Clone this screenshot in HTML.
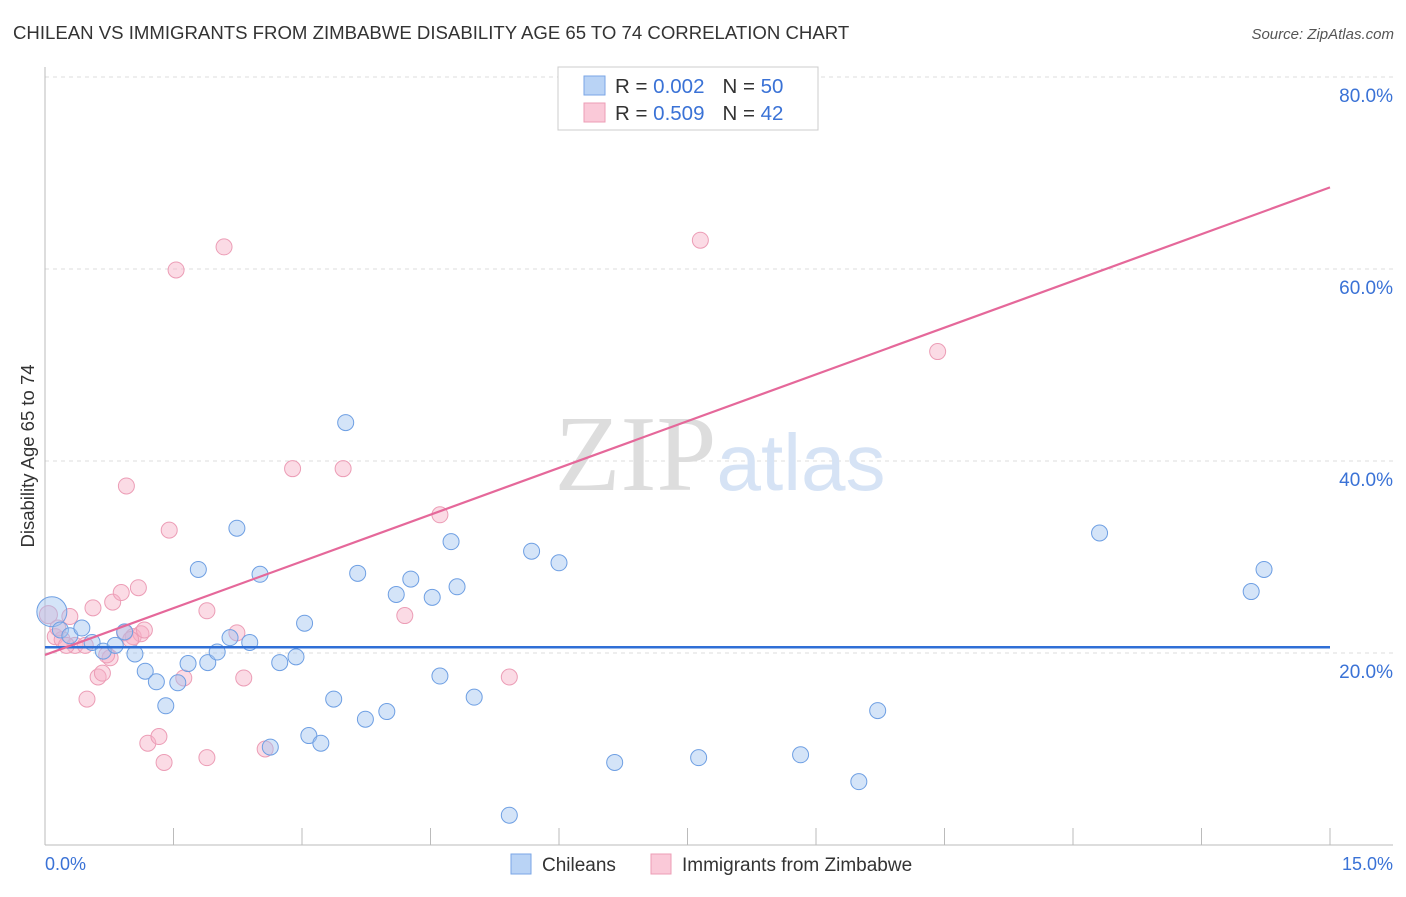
<!DOCTYPE html>
<html><head><meta charset="utf-8"><style>
body{margin:0;background:#fff;font-family:"Liberation Sans",sans-serif;}
svg text{font-family:"Liberation Sans",sans-serif;}
</style></head><body>
<svg id="chart" width="1406" height="892">
<text x="13" y="39" font-size="18.6" fill="#333">CHILEAN VS IMMIGRANTS FROM ZIMBABWE DISABILITY AGE 65 TO 74 CORRELATION CHART</text>
<text x="1394" y="39" font-size="15" fill="#555" font-style="italic" text-anchor="end">Source: ZipAtlas.com</text>
<g id="grid"></g>
<text x="720" y="490" font-size="108" fill="#e6e6e6" text-anchor="middle" font-family="Liberation Serif"><tspan fill="#dddddd" font-family="Liberation Serif">ZIP</tspan><tspan fill="#d6e3f5" font-family="Liberation Sans" font-size="80">atlas</tspan></text>
<text transform="translate(34,456) rotate(-90)" font-size="18.5" fill="#333" text-anchor="middle">Disability Age 65 to 74</text>
<g id="pts"></g>
<g id="trend"></g>
<g>
<rect x="558" y="67" width="260" height="63" fill="#fff" stroke="#ccc"/>
<rect x="584" y="76" width="21" height="19" fill="#b9d3f5" stroke="#7aa6e6"/>
<rect x="584" y="103" width="21" height="19" fill="#fac9d8" stroke="#ec9db6"/>
<text x="615" y="93" font-size="20.5" fill="#333">R = <tspan fill="#3a72d6">0.002</tspan><tspan dx="18">N = </tspan><tspan fill="#3a72d6">50</tspan></text>
<text x="615" y="120" font-size="20.5" fill="#333">R = <tspan fill="#3a72d6">0.509</tspan><tspan dx="18">N = </tspan><tspan fill="#3a72d6"> 42</tspan></text>
</g>
<g>
<rect x="511" y="854" width="20" height="20" fill="#b9d3f5" stroke="#7aa6e6"/>
<text x="542" y="871" font-size="19" fill="#333">Chileans</text>
<rect x="651" y="854" width="20" height="20" fill="#fac9d8" stroke="#ec9db6"/>
<text x="682" y="871" font-size="19" fill="#333">Immigrants from Zimbabwe</text>
</g>
<text x="45" y="870" font-size="18" fill="#3a72d6">0.0%</text>
<text x="1393" y="870" font-size="18" fill="#3a72d6" text-anchor="end">15.0%</text>
</svg>
<script>
const yTicks=[20,40,60,80];
const yTickLabels=["20.0%","40.0%","60.0%","80.0%"];
const xTicks=[0,1.5,3,4.5,6,7.5,9,10.5,12,13.5,15];
const blueX=[0.08,0.18,0.29,0.43,0.55,0.68,0.82,0.93,1.05,1.17,1.30,1.41,1.55,1.67,1.79,1.90,2.01,2.16,2.24,2.39,2.51,2.63,2.74,2.93,3.03,3.08,3.22,3.37,3.51,3.65,3.74,3.99,4.10,4.27,4.52,4.61,4.74,4.81,5.01,5.42,5.68,6.00,6.65,7.63,8.82,9.50,9.72,12.31,14.08,14.23];
const blueY=[24.3,22.4,21.8,22.6,21.1,20.2,20.8,22.2,19.9,18.1,17.0,14.5,16.9,18.9,28.7,19.0,20.1,21.6,33.0,21.1,28.2,10.2,19.0,19.6,23.1,11.4,10.6,15.2,44.0,28.3,13.1,13.9,26.1,27.7,25.8,17.6,31.6,26.9,15.4,3.1,30.6,29.4,8.6,9.1,9.4,6.6,14.0,32.5,26.4,28.7];
const pinkX=[0.04,0.12,0.20,0.29,0.35,0.47,0.49,0.56,0.62,0.67,0.76,0.79,0.89,0.93,0.95,1.03,1.09,1.12,1.16,1.20,1.33,1.39,1.45,1.53,1.62,1.89,1.89,2.09,2.24,2.32,2.57,2.89,3.48,4.20,4.61,5.42,7.65,10.42,0.15,0.25,0.72,1.00];
const pinkY=[24.0,21.7,21.4,23.8,20.8,20.8,15.2,24.7,17.5,17.9,19.5,25.3,26.3,22.1,37.4,21.7,26.8,22.0,22.4,10.6,11.3,8.6,32.8,59.9,17.4,24.4,9.1,62.3,22.1,17.4,10.0,39.2,39.2,23.9,34.4,17.5,63.0,51.4,22.6,20.8,19.8,21.4];
const blueTrend=[20.6,20.6];
const pinkTrend=[19.8,68.5];
const NS="http://www.w3.org/2000/svg";
const sx=v=>45+v*(1285/15);
const sy=v=>845-v*9.6;
function mk(t,a,p){const e=document.createElementNS(NS,t);for(const k in a)e.setAttribute(k,a[k]);p.appendChild(e);return e;}
const grid=document.getElementById('grid');
yTicks.forEach((v,i)=>{
 const l=mk('line',{x1:45,x2:1393,y1:sy(v),y2:sy(v),stroke:'#ddd','stroke-dasharray':'4,4'},grid);
 
 
 const t=mk('text',{x:1393,y:sy(v)+25,'font-size':19,fill:'#3a72d6','text-anchor':'end'},grid);
 t.textContent=yTickLabels[i];
 
 
});
const ax=mk('line',{x1:45,x2:45,y1:67,y2:845,stroke:'#bbb'},grid);


const bx=mk('line',{x1:45,x2:1393,y1:845,y2:845,stroke:'#bbb'},grid);


xTicks.forEach(v=>{
 const l=mk('line',{x1:sx(v),x2:sx(v),y1:828,y2:845,stroke:'#bbb'},grid);
 
 
});
const pts=document.getElementById('pts');
pinkX.forEach((x,i)=>{
 const c=mk('circle',{cx:sx(x),cy:sy(pinkY[i]),r:i==0?9:8,fill:'rgba(247,175,198,0.45)',stroke:'#ec9db6','stroke-width':1},pts);
 
 
});
blueX.forEach((x,i)=>{
 const c=mk('circle',{cx:sx(x),cy:sy(blueY[i]),r:i==0?15:8,fill:'rgba(160,195,240,0.45)',stroke:'#6e9fe3','stroke-width':1},pts);
 
 
});
const tr=document.getElementById('trend');
const b=mk('line',{x1:sx(0),x2:sx(15),y1:sy(blueTrend[0]),y2:sy(blueTrend[1]),stroke:'#2f6fd6','stroke-width':2.5},tr);


const p=mk('line',{x1:sx(0),x2:sx(15),y1:sy(pinkTrend[0]),y2:sy(pinkTrend[1]),stroke:'#e5689a','stroke-width':2.2},tr);


</script>
</body></html>
